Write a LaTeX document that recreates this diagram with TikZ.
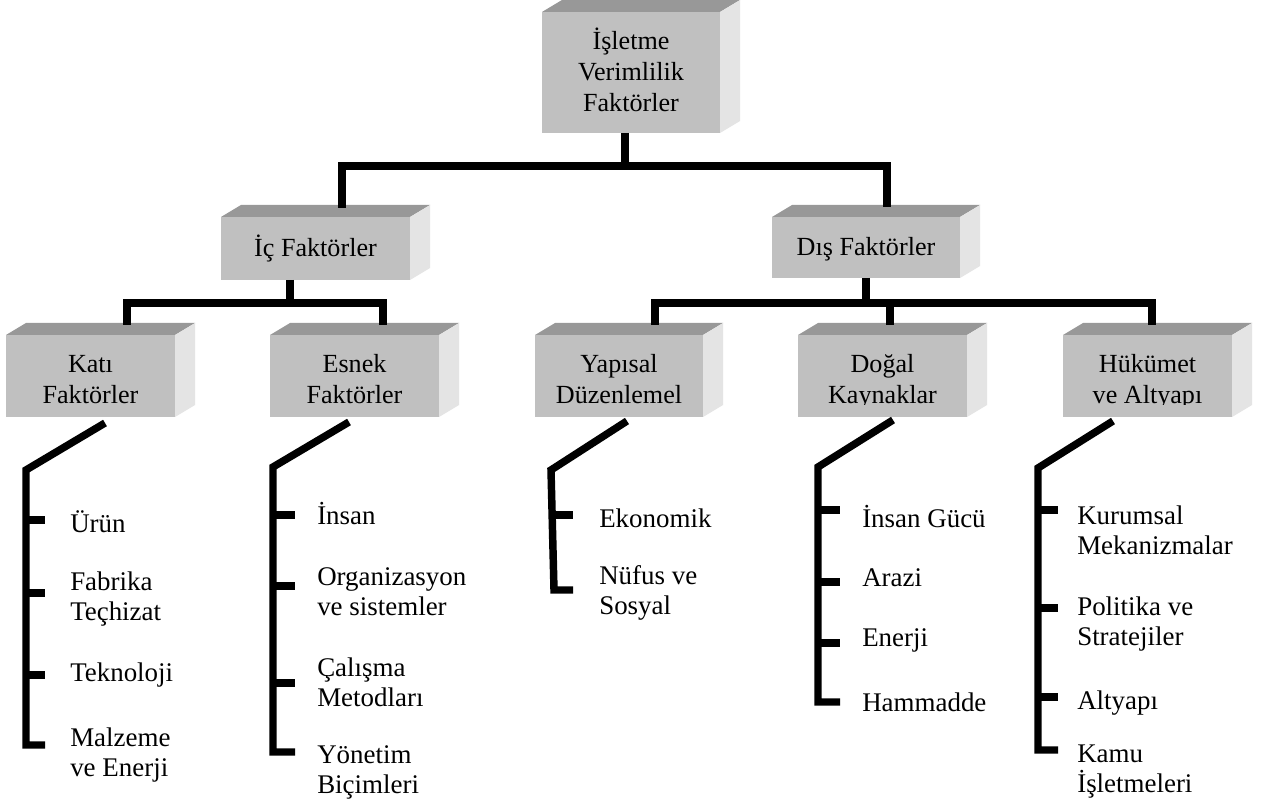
\documentclass[tikz,border=0pt]{standalone}
\usepackage{fontspec}
\setmainfont{Liberation Serif}
\usetikzlibrary{calc}

\definecolor{frontgray}{RGB}{192,192,192}
\definecolor{topgray}{RGB}{152,152,152}
\definecolor{sidegray}{RGB}{228,228,228}

\tikzset{
  link/.style={line width=5.6pt, line join=miter, line cap=butt},
  facebox/.style={fill=frontgray, draw=none, inner sep=0pt, outer sep=0pt},
  boxtext/.style={font=\fontsize{19.6}{23.2}\selectfont, inner sep=0pt, anchor=base},
  itemtext/.style={font=\fontsize{20.2}{22.5}\selectfont, align=left, anchor=west, inner sep=0pt},
}

% 3D slab: name, x0, y0, x1, y1 (front face), first baseline, clip bottom, text
\newcommand\slab[8]{%
  \fill[topgray] (#2,#3) -- (#2+20,#3-12) -- (#4+20,#3-12) -- (#4,#3) -- cycle;
  \fill[sidegray] (#4,#3) -- (#4+20,#3-12) -- (#4+20,#5-12) -- (#4,#5) -- cycle;
  \node[facebox, minimum width={(#4-#2)*0.75pt}, minimum height={(#5-#3)*0.75pt}]
    (#1) at ({(#2+#4)/2},{(#3+#5)/2}) {};
  \begin{scope}
    \clip (#2,#3) rectangle (#4,#7);
    \node[boxtext] (#1-text) at ($(#1 |- 0,#6)$)
      {\renewcommand\arraystretch{1}\setlength\tabcolsep{0pt}%
       \begin{tabular}[t]{c}#8\end{tabular}};
  \end{scope}
}

\begin{document}
\begin{tikzpicture}[x=0.75pt,y=-0.75pt]
\useasboundingbox (0,0) rectangle (1266,812);
\fill[white] (0,0) rectangle (1266,812);

% boxes
\slab{root}{542}{12}{720}{133}{50}{133}{İşletme\\Verimlilik\\Faktörler}
\slab{ic}{221}{217}{410}{280}{257}{280}{İç Faktörler}
\slab{dis}{772}{217}{960}{278}{256}{278}{Dış Faktörler}
\slab{kati}{6}{335}{175}{417}{373}{405}{Katı\\Faktörler}
\slab{esnek}{270}{335}{439}{417}{373}{405}{Esnek\\Faktörler}
\slab{yapisal}{535}{335}{703}{417}{373}{405}{Yapısal\\Düzenlemel}
\slab{dogal}{798}{335}{967}{417}{373}{405}{Doğal\\Kaynaklar}
\slab{hukumet}{1063}{335}{1232}{417}{373}{405}{Hükümet\\ve Altyapı}

% first level
\coordinate (bus0) at (625,166);
\coordinate (icdrop) at (342,208);
\coordinate (disdrop) at (887,207);
\draw[link] (root.south -| bus0) -- (bus0);
\draw[link] (icdrop) |- (bus0) -| (disdrop);

% second level, inner factors
\coordinate (icbus) at (290,303);
\coordinate (katidrop) at (127,325);
\coordinate (esnekdrop) at (383,325);
\draw[link] (ic.south -| icbus) -- (icbus);
\draw[link] (katidrop) |- (icbus) -| (esnekdrop);

% second level, outer factors
\coordinate (disbus) at (866,303);
\coordinate (yapisaldrop) at (655,325);
\coordinate (dogaldrop) at (890,325);
\coordinate (hukumetdrop) at (1152,325);
\draw[link] (dis.south -| disbus) -- (disbus);
\draw[link] (yapisaldrop) |- (disbus) -| (hukumetdrop);
\draw[link] (dogaldrop) -- (dogaldrop |- disbus);

% brackets
\draw[link] (kati.south) ++(14.5,6) -- (26,470) -- (26,745) -- (45,745);
\foreach \y in {520,593,675} \draw[link] (26,\y) -- (45,\y);

\draw[link] (esnek.south) ++(-5.5,5) -- (273,467) -- (273,752) -- (295,752);
\foreach \y in {515,586,683} \draw[link] (273,\y) -- (295,\y);

\draw[link] (yapisal.south) ++(8,4) -- (551,470) -- (554,590) -- (573,590);
\draw[link] (552,515) -- (573,515);

\draw[link] (dogal.south) ++(10.5,3) -- (818,467) -- (818,702) -- (840,702);
\foreach \y in {510,582,643} \draw[link] (818,\y) -- (840,\y);

\draw[link] (hukumet.south) ++(-34.5,4) -- (1038,468) -- (1038,750) -- (1058,750);
\foreach \y in {510,608,697} \draw[link] (1038,\y) -- (1058,\y);

% item texts
\node[itemtext] (k1) at (70,522) {Ürün};
\node[itemtext] (k2) at (70,599) {Fabrika\\Teçhizat};
\node[itemtext] (k3) at (70,675) {Teknoloji};
\node[itemtext] (k4) at (70,755) {Malzeme\\ve Enerji};

\node[itemtext] (e1) at (317,514) {İnsan};
\node[itemtext] (e2) at (317,592) {Organizasyon\\ve sistemler};
\node[itemtext] (e3) at (317,682) {Çalışma\\Metodları};
\node[itemtext] (e4) at (317,772) {Yönetim\\Biçimleri};

\node[itemtext] (y1) at (599,518) {Ekonomik};
\node[itemtext] (y2) at (599,593) {Nüfus ve\\Sosyal};

\node[itemtext] (d1) at (862,517) {İnsan Gücü};
\node[itemtext] (d2) at (862,578) {Arazi};
\node[itemtext] (d3) at (862,640) {Enerji};
\node[itemtext] (d4) at (862,702) {Hammadde};

\node[itemtext] (h1) at (1077,530) {Kurumsal\\Mekanizmalar};
\node[itemtext] (h2) at (1077,624) {Politika ve\\Stratejiler};
\node[itemtext] (h3) at (1077,703) {Altyapı};
\node[itemtext] (h4) at (1077,772) {Kamu\\İşletmeleri};
\end{tikzpicture}
\end{document}
